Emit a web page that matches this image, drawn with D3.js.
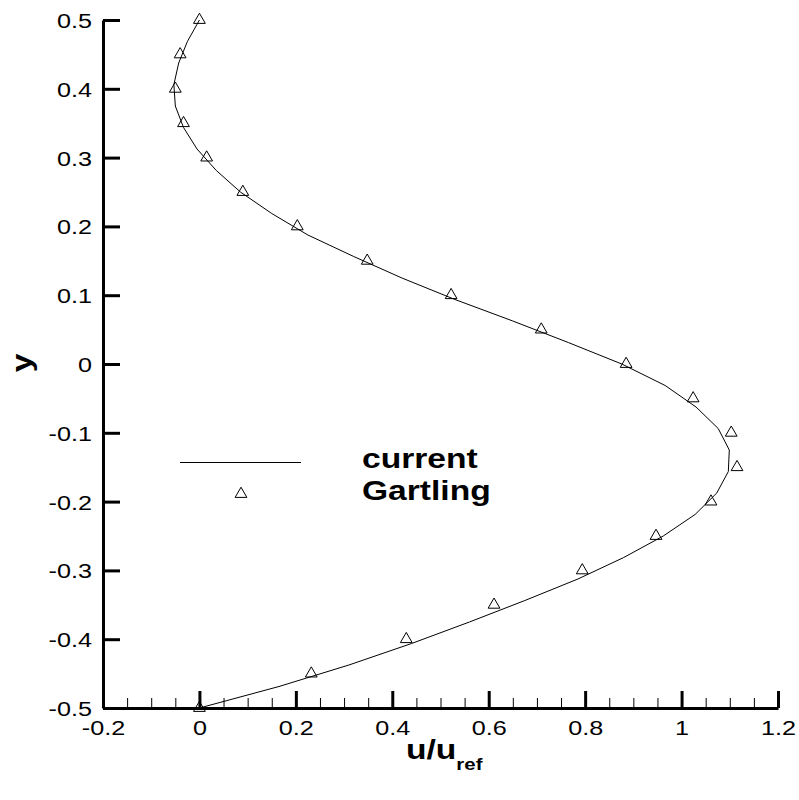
<!DOCTYPE html>
<html>
<head>
<meta charset="utf-8">
<script src="https://cdn.jsdelivr.net/npm/d3@7"></script>
<style>
  html, body { margin: 0; padding: 0; background: #fff; }
  svg { display: block; }
  text { font-family: "Liberation Sans", Arial, Helvetica, sans-serif; fill: #000; }
</style>
</head>
<body>
<svg id="chart" width="799" height="800"></svg>
<script>
// ---- data ----
const gartlingY = [0.5, 0.45, 0.4, 0.35, 0.3, 0.25, 0.2, 0.15, 0.1, 0.05, 0,
  -0.05, -0.1, -0.15, -0.2, -0.25, -0.3, -0.35, -0.4, -0.45, -0.5];
const gartlingU = [0.0, -0.04, -0.05, -0.033, 0.015, 0.09, 0.203, 0.348, 0.522, 0.709, 0.885,
  1.024, 1.103, 1.115, 1.061, 0.947, 0.794, 0.611, 0.429, 0.232, 0.0];

const currentY = [0.5, 0.46875, 0.4375, 0.40625, 0.375, 0.34375, 0.3125, 0.28125, 0.25,
  0.21875, 0.1875, 0.15625, 0.125, 0.09375, 0.0625, 0.03125, 0,
  -0.03125, -0.0625, -0.09375, -0.125, -0.15625, -0.1875, -0.21875, -0.25,
  -0.28125, -0.3125, -0.34375, -0.375, -0.40625, -0.4375, -0.46875, -0.5];
const currentU = [0.0, -0.025, -0.043, -0.053, -0.05, -0.033, -0.005, 0.035, 0.085,
  0.15, 0.225, 0.32, 0.42, 0.53, 0.65, 0.765, 0.876,
  0.966, 1.03, 1.076, 1.099, 1.097, 1.073, 1.028, 0.962,
  0.88, 0.785, 0.675, 0.56, 0.44, 0.31, 0.165, 0.0];

const xTicks = [-0.2, 0, 0.2, 0.4, 0.6, 0.8, 1.0, 1.2];
const xTickLabels = ["-0.2", "0", "0.2", "0.4", "0.6", "0.8", "1", "1.2"];
const xMinorTicks = [-0.15, -0.1, -0.05, 0.05, 0.1, 0.15, 0.25, 0.3, 0.35, 0.45, 0.5, 0.55,
  0.65, 0.7, 0.75, 0.85, 0.9, 0.95, 1.05, 1.1, 1.15];
const yTicks = [-0.5, -0.4, -0.3, -0.2, -0.1, 0, 0.1, 0.2, 0.3, 0.4, 0.5];
const yTickLabels = ["-0.5", "-0.4", "-0.3", "-0.2", "-0.1", "0", "0.1", "0.2", "0.3", "0.4", "0.5"];

const legendNames = ["current", "Gartling"];

// ---- layout ----
const SX = 1.2; // horizontal stretch of glyphs
const svg = d3.select("#chart");
svg.append("rect").attr("width", 799).attr("height", 800).attr("fill", "#fff");

const x = d3.scaleLinear().domain([-0.2, 1.2]).range([103, 778]);
const y = d3.scaleLinear().domain([-0.5, 0.5]).range([708, 20]);

// minor x ticks
const xMinor = d3.axisBottom(x).tickValues(xMinorTicks).tickSize(-10).tickSizeOuter(0).tickFormat("");
svg.append("g").attr("transform", "translate(0,708)").call(xMinor)
  .call(g => g.select(".domain").remove())
  .call(g => g.selectAll("line").attr("stroke", "#000").attr("stroke-width", 1));

// major x axis
const xAxis = d3.axisBottom(x).tickValues(xTicks).tickSize(-17).tickSizeOuter(0)
  .tickPadding(12).tickFormat((d, i) => xTickLabels[i]);
svg.append("g").attr("transform", "translate(0,708)").call(xAxis)
  .call(g => g.select(".domain").attr("stroke", "#000").attr("stroke-width", 3))
  .call(g => g.selectAll(".tick line").attr("stroke", "#000").attr("stroke-width", 3))
  .call(g => g.selectAll("text").attr("font-size", 21).attr("font-family", null)
    .attr("transform", `scale(${SX},1)`));

// y axis
const yAxis = d3.axisLeft(y).tickValues(yTicks).tickSize(-17).tickSizeOuter(0)
  .tickPadding(11).tickFormat((d, i) => yTickLabels[i]);
svg.append("g").attr("transform", "translate(103,0)").call(yAxis)
  .call(g => g.select(".domain").attr("stroke", "#000").attr("stroke-width", 3))
  .call(g => g.selectAll(".tick line").attr("stroke", "#000").attr("stroke-width", 3))
  .call(g => g.selectAll("text").attr("font-size", 21).attr("font-family", null)
    .attr("x", -11 / SX).attr("dy", "0.36em")
    .attr("transform", `scale(${SX},1)`));

// current line
const lineData = currentY.map((v, i) => [currentU[i], v]);
svg.append("path")
  .datum(lineData)
  .attr("fill", "none")
  .attr("stroke", "#000")
  .attr("stroke-width", 1)
  .attr("d", d3.line().x(d => x(d[0])).y(d => y(d[1])));

// Gartling markers
const tri = d3.symbol().type(d3.symbolTriangle).size(60);
const gData = gartlingY.map((v, i) => [gartlingU[i], v]);
svg.append("g").selectAll("path").data(gData).join("path")
  .attr("transform", d => `translate(${x(d[0])},${y(d[1])})`)
  .attr("d", tri)
  .attr("fill", "none")
  .attr("stroke", "#000")
  .attr("stroke-width", 1);

// legend
svg.append("line").attr("x1", 180).attr("x2", 301).attr("y1", 462.5).attr("y2", 462.5)
  .attr("stroke", "#000").attr("stroke-width", 1);
svg.append("path").attr("transform", "translate(241,494)").attr("d", tri)
  .attr("fill", "none").attr("stroke", "#000").attr("stroke-width", 1);
svg.append("g").attr("transform", `translate(362,0) scale(${SX},1)`)
  .selectAll("text").data(legendNames).join("text")
  .attr("x", 0)
  .attr("y", (d, i) => 468 + i * 32)
  .attr("font-size", 28)
  .attr("font-weight", "bold")
  .text(d => d);

// axis titles
svg.append("text")
  .attr("transform", `translate(31,363) rotate(-90) scale(${SX},1)`)
  .attr("text-anchor", "middle")
  .attr("font-size", 28)
  .attr("font-weight", "bold")
  .text("y");

const xt = svg.append("text")
  .attr("transform", `translate(406,759) scale(${SX},1)`)
  .attr("font-size", 28)
  .attr("font-weight", "bold");
xt.append("tspan").text("u/u");
xt.append("tspan").attr("font-size", 17).attr("dy", 11).text("ref");
</script>
</body>
</html>
